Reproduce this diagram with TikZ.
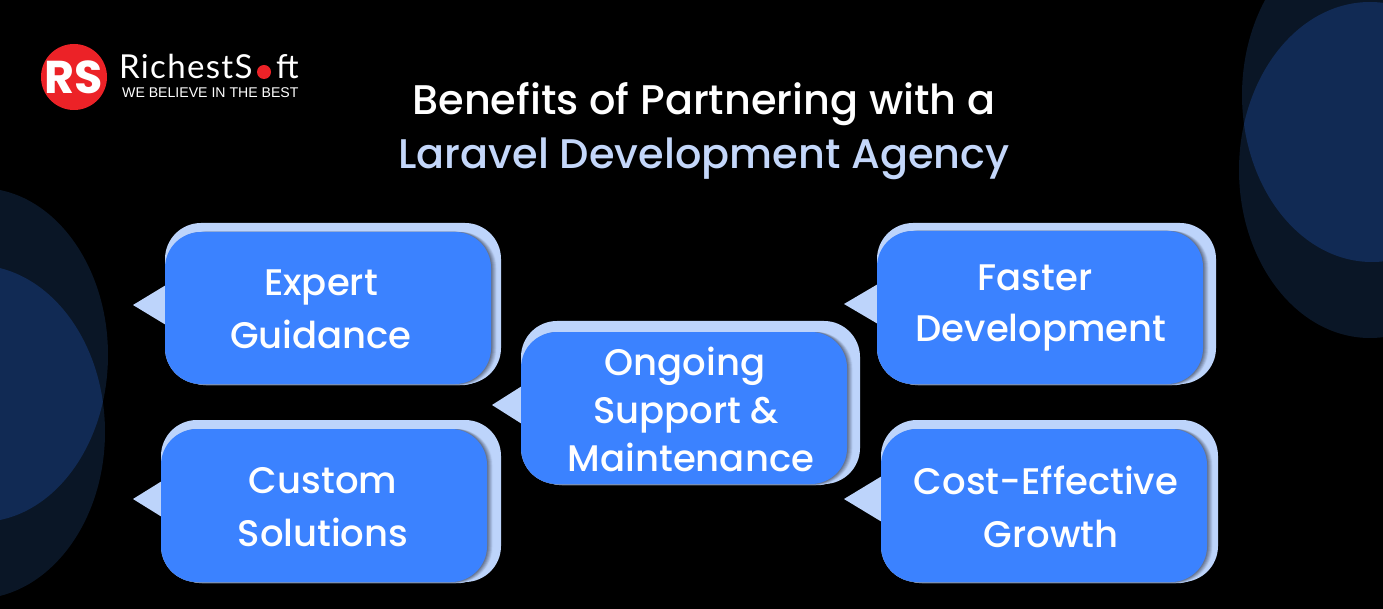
\documentclass[tikz,border=0pt]{standalone}
\usepackage{fontspec}
\usepackage{xcolor}
\setmainfont{Poppins Medium}
\newfontfamily\logofont[LetterSpace=4]{Lato}
\newfontfamily\mottofont{Liberation Sans}
\newfontfamily\logobold{Poppins Bold}
\definecolor{bgdark}{HTML}{0A1626}
\definecolor{bgmid}{HTML}{112A54}
\definecolor{bubbleback}{HTML}{BDD4FB}
\definecolor{bubblefront}{HTML}{3B82FF}
\definecolor{bubbleedge}{HTML}{56637C}
\definecolor{titleblue}{HTML}{C4D7FA}
\definecolor{logored}{HTML}{EC2227}
\tikzset{%
	corner/.style    = {rounded corners=36pt},
	label/.style     = {text=white, align=center, font=\fontsize{37}{53}\selectfont},
	title/.style     = {align=center, font=\fontsize{41.4}{55}\selectfont},
}
% front box: left, top, right, bottom; back box: right, top; tip: x, y, half base
\newcommand{\bubble}[9]{%
	\fill[bubbleback] (#7,#8) -- (#1+1,#8-#9) -- (#1+1,#8+#9) -- cycle;
	\fill[bubbleback,corner] (#1,#6) rectangle (#5,#4);
	\foreach \i in {6,5,4,3,2,1} {
		\fill[bubbleedge!\the\numexpr 100-\i*16\relax!bubbleback,corner] (#1+\i,#2) rectangle (#3+\i,#4+\i*0.2);
	}
	\fill[bubblefront,corner] (#1,#2) rectangle (#3,#4);
}
\begin{document}
\begin{tikzpicture}[x=1pt,y=-1pt]
	\useasboundingbox[fill=black] (0,0) rectangle (1383,609);
	
	\fill[bgdark] (-20,355) ellipse [x radius=128, y radius=167];
	\fill[bgdark] (-25,432) ellipse [x radius=130, y radius=167];
	\begin{scope}
		\clip (-20,355) ellipse [x radius=128, y radius=167];
		\fill[bgmid] (-25,432) ellipse [x radius=130, y radius=167];
	\end{scope}
	\fill[bgdark] (1372,95) ellipse [x radius=130, y radius=167];
	\fill[bgdark] (1370,170) ellipse [x radius=131, y radius=168];
	\begin{scope}
		\clip (1372,95) ellipse [x radius=130, y radius=167];
		\fill[bgmid] (1370,170) ellipse [x radius=131, y radius=168];
	\end{scope}
	
	\fill[logored] (74,77) circle (33);
	\node[text=white, font=\logobold\fontsize{46}{46}\selectfont, inner sep=0pt] (rs) at (74,77) {RS};
	\node[text=white, anchor=base west, inner sep=0pt, font=\logofont\fontsize{33}{33}\selectfont] (richest) at (119,79) {RichestS};
	\fill[logored] (264,72) circle (7);
	\node[text=white, anchor=base east, inner sep=0pt, font=\logofont\fontsize{33}{33}\selectfont] (soft) at (299,79) {ft};
	\node[text=white, anchor=base west, inner sep=0pt, font=\mottofont\fontsize{14.1}{16}\selectfont] (motto) at (122,98) {WE BELIEVE IN THE BEST};
	
	\node[title, text=white] (title1) at (704,104) {Benefits of Partnering with a};
	\node[title, text=titleblue] (title2) at (704,159) {Laravel Development Agency};
	
	\bubble{165}{232}{491}{384}{501}{223}{133}{305}{20}
	\bubble{161}{429}{487}{582}{501}{420}{133}{499}{18}
	\bubble{521}{332}{847}{484}{860}{321}{492}{405}{19}
	\bubble{877}{231}{1203}{384}{1216}{223}{844}{304}{20}
	\bubble{881}{429}{1207}{582}{1218}{420}{844}{499}{23}
	
	\node[label] (expert) at (321,309) {Expert\\Guidance};
	\node[label] (custom) at (323,507.5) {Custom\\Solutions};
	\node[label, font=\fontsize{37}{48}\selectfont] (ongoing) at (691,409.5) {Ongoing\hspace*{12pt}\\Support \&\rule{10pt}{0pt}\\Maintenance};
	\node[label, font=\fontsize{37}{51}\selectfont] (faster) at (1041,308) {Faster\hspace*{12pt}\\Development};
	\node[label] (cost) at (1046,506.5) {Cost-Effective\\\hspace*{10pt}Growth};
\end{tikzpicture}
\end{document}
